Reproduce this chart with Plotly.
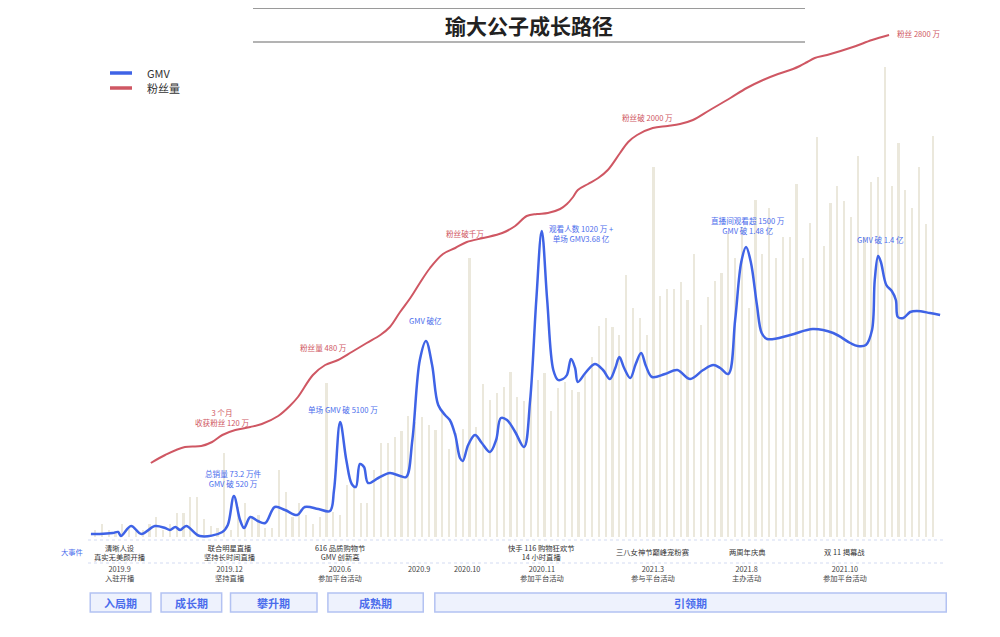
import plotly.graph_objects as go

# --- 数据：柱高、折线高度均为图上读取的相对值（基线为 0）---
bar_vals = [7, 13, 7, 4, 13, 10, 8, 7, 13, 20, 7, 13, 24, 24, 40, 40, 18, 11, 9,
            84,
            7, 30, 34, 20, 22, 9, 9, 67, 45, 20, 34, 22, 13, 20,
            154,
            25, 22, 52, 49, 34, 34, 67, 94, 94, 100, 106, 121, 115, 120, 112, 107, 127, 88, 104, 108,
            279,
            110, 153, 137, 144, 150, 165, 140, 136, 150, 157, 164, 126, 149, 155, 147, 145, 165, 180,
            211, 219, 210, 202, 262, 229, 219, 202,
            370,
            241, 248, 248, 255, 237, 283, 212, 240, 256, 264, 304, 279, 310, 229, 337, 283, 329, 279,
            300, 300, 353, 279, 314, 400, 291, 334, 351, 336, 320, 381, 300, 355, 360,
            470,
            351, 394, 347, 329, 370, 313, 401]

gmv_x = [-0.6, 0.7, 2.6, 3.4, 3.8, 5.3, 6.8, 8.8, 10.3, 11.0, 11.8, 12.5, 13.4, 15.4, 18.7,
         19.5, 20.4, 21.3, 21.9, 22.8, 23.9, 25.0, 26.4, 27.9, 29.7, 30.8, 32.8, 34.5, 35.1,
         36.0, 36.9, 37.7, 38.3, 38.9, 39.5, 40.1, 41.6, 43.3, 44.8, 45.7, 46.6, 47.7, 48.6,
         49.5, 50.4, 51.4, 52.1, 52.9, 53.6, 54.0, 54.8, 55.8, 56.8, 58.0, 58.9, 59.6, 60.5,
         61.7, 63.0, 63.9, 64.8, 65.6, 66.4, 67.3, 68.0, 68.7, 69.3, 69.9, 70.5, 70.9, 72.0,
         73.4, 74.6, 75.6, 76.4, 77.0, 77.7, 78.6, 79.4, 80.2, 80.9, 81.8, 83.7, 85.5, 87.4,
         89.3, 90.8, 91.8, 93.0, 94.0, 94.9, 95.6, 96.3, 97.2, 97.9, 98.7, 102.1, 105.4, 108.4,
         110.9, 112.0, 113.2, 114.1, 114.5, 115.0, 115.4, 116.2, 117.0, 117.6, 117.9, 118.7,
         119.7, 120.7, 122.6, 124.1]
gmv_y = [3, 3, 4, 5, 1, 11, 3, 11, 9, 7, 10, 7, 11, 1, 5,
         12, 41, 17, 9, 20, 16, 14, 30, 27, 22, 30, 28, 26, 47,
         115, 77, 53, 50, 73, 70, 54, 59, 64, 61, 60, 97, 177, 196,
         172, 132, 122, 117, 102, 79, 76, 92, 102, 94, 85, 97, 119, 117,
         105, 90, 137, 237, 306, 237, 167, 157, 158, 162, 178, 169, 155, 164,
         173, 167, 158, 169, 180, 169, 159, 173, 184, 171, 160, 163, 167, 158,
         167, 172, 169, 163, 217, 275, 290, 275, 232, 204, 198, 202, 208, 204,
         194, 191, 192, 207, 257, 281, 275, 252, 246, 237, 220, 219,
         225, 226, 224, 222]

fans_x = [8.2, 10.3, 13.2, 15.6, 17.2, 18.7, 20.6, 22.8, 24.5, 26.9, 28.6, 29.8, 32.0, 33.8,
          35.7, 37.7, 39.9, 41.9, 43.3, 44.8, 46.3, 47.7, 49.2, 51.1, 52.9, 54.6, 57.0, 59.8,
          61.7, 63.4, 64.9, 66.5, 68.3, 69.3, 70.2, 70.9, 72.4, 73.9, 75.3, 77.1, 78.3, 79.6,
          81.9, 84.1, 85.9, 87.8, 90.3, 93.3, 95.7, 98.1, 100.3, 102.5, 103.5, 104.6, 105.7,
          107.5, 111.3, 114.1, 116.6]
fans_y = [74, 82, 90, 91, 95, 102, 107, 110, 113, 121, 131, 140, 162, 172,
          177, 185, 194, 202, 210, 225, 239, 254, 269, 283, 289, 295, 299, 304,
          311, 321, 323, 324, 328, 333, 340, 347, 353, 359, 367, 384, 395, 402,
          409, 411, 413, 417, 427, 439, 449, 457, 463, 468, 471, 475, 479,
          482, 490, 497, 502]

# 大事件（按时间轴位置）
event_x = [3.7, 19.8, 36.0, 47.6, 54.6, 65.6, 81.9, 95.7, 110.1]
event_text = ["清晰人设<br>真实无美颜开播", "联合明星直播<br>坚持长时间直播", "616 品质购物节<br>GMV 创新高",
              "", "", "快手 116 购物狂欢节<br>14 小时直播", "三八女神节巅峰宠粉赛", "两周年庆典", "双 11 揭幕战"]
event_date = ["2019.9<br>入驻开播", "2019.12<br>坚持直播", "2020.6<br>参加平台活动", "2020.9", "2020.10",
              "2020.11<br>参加平台活动", "2021.3<br>参与平台活动", "2021.8<br>主办活动", "2021.10<br>参加平台活动"]

# 阶段
phase_names = ["入局期", "成长期", "攀升期", "成熟期", "引领期"]
phase_start = [-0.7, 9.7, 19.9, 34.2, 49.9]
phase_end = [8.2, 18.6, 32.6, 48.2, 125.0]

# 折线注释
fans_notes = [(18.6, 120, "3 个月<br>收获粉丝 120 万"), (33.5, 190, "粉丝量 480 万"), (54.3, 304, "粉丝破千万"),
              (81.1, 420, "粉丝破 2000 万"), (120.9, 504, "粉丝 2800 万")]
gmv_notes = [(20.4, 59, "总销量 73.2 万件<br>GMV 破 520 万"), (36.4, 128, "单场 GMV 破 5100 万"),
             (48.5, 217, "GMV 破亿"), (71.4, 304, "观看人数 1020 万 +<br>单场 GMV3.68 亿"),
             (95.9, 312, "直播间观看超 1500 万<br>GMV 破 1.48 亿"), (115.4, 298, "GMV 破 1.4 亿")]

FONT = "Noto Sans CJK SC"
BLUE = "#3f63e6"
RED = "#cf5763"
TEXT_BLUE = "#4a6cec"
# 页面有 8px 的默认边距，画布取 992x629
OFF = 8
W, H = 992, 629
STEP = 6.81  # 每根柱子的像素间距


def fx(px):
    return (px - OFF) / W


def fy(py):
    return 1 - (py - OFF) / H


def note(x, y, text, size, color, xref="paper", yref="paper"):
    return dict(x=x, y=y, xref=xref, yref=yref, text=text, showarrow=False,
                xanchor="center", yanchor="middle", font=dict(size=size, color=color))


fig = go.Figure()
fig.add_trace(go.Bar(x=list(range(len(bar_vals))), y=bar_vals, width=0.32,
                     marker=dict(color="#ebe8dc", line=dict(width=0)), showlegend=False, hoverinfo="skip"))
fig.add_trace(go.Scatter(x=gmv_x, y=gmv_y, mode="lines", name="GMV", showlegend=False,
                         line=dict(color=BLUE, width=2.5, shape="spline", smoothing=1)))
fig.add_trace(go.Scatter(x=fans_x, y=fans_y, mode="lines", name="粉丝量", showlegend=False,
                         line=dict(color=RED, width=2, shape="spline", smoothing=1)))

annotations = []
shapes = []
for x, y, t in fans_notes:
    annotations.append(note(x, y, t, 7.6, RED, "x", "y"))
for x, y, t in gmv_notes:
    annotations.append(note(x, y, t, 7.6, TEXT_BLUE, "x", "y"))

# 大事件与时间
for x, t, d in zip(event_x, event_text, event_date):
    if t:
        annotations.append(note(x, fy(552), t, 7.3, "#333333", "x"))
    y = fy(573.5) if "<br>" in d else fy(569)
    annotations.append(note(x, y, d, 7.3, "#444444", "x"))
annotations.append(note(fx(72), fy(552), "大事件", 7.3, TEXT_BLUE))

for y in (540, 563):
    shapes.append(dict(type="line", xref="paper", yref="paper", x0=fx(88), x1=fx(946),
                       y0=fy(y), y1=fy(y), line=dict(color="#d3dbf2", width=1, dash="dot")))
for name, s, e in zip(phase_names, phase_start, phase_end):
    shapes.append(dict(type="rect", xref="x", yref="paper", x0=s, x1=e, y0=fy(612), y1=fy(593),
                       fillcolor="#eef2fd", line=dict(color="#b3c2f2", width=1.5)))
    annotations.append(note((s + e) / 2, fy(602.5), "<b>" + name + "</b>", 11, TEXT_BLUE, "x"))

# 图例
for y, c, t in ((73, BLUE, "GMV"), (88, RED, "粉丝量")):
    shapes.append(dict(type="line", xref="paper", yref="paper", x0=fx(110), x1=fx(132), y0=fy(y), y1=fy(y),
                       line=dict(color=c, width=3.5)))
    annotations.append(dict(x=fx(145), y=fy(y), xref="paper", yref="paper", text=t, showarrow=False,
                            xanchor="left", yanchor="middle", font=dict(size=11, color="#333333")))

# 标题
shapes.append(dict(type="line", xref="paper", yref="paper", x0=fx(253), x1=fx(805), y0=fy(8.5), y1=fy(8.5),
                   line=dict(color="#9a9a9a", width=1)))
shapes.append(dict(type="line", xref="paper", yref="paper", x0=fx(253), x1=fx(805), y0=fy(42), y1=fy(42),
                   line=dict(color="#9a9a9a", width=1.5)))
annotations.append(note(fx(529), fy(25), "<b>瑜大公子成长路径</b>", 21, "#222222"))

fig.update_layout(
    width=W, height=H,
    margin=dict(l=0, r=0, t=0, b=0),
    paper_bgcolor="white", plot_bgcolor="white",
    font=dict(family=FONT),
    xaxis=dict(visible=False, range=[-(95 - OFF) / STEP, (W - 95 + OFF) / STEP]),
    yaxis=dict(visible=False, range=[-(H - (537 - OFF)), 537 - OFF]),
    bargap=0,
    showlegend=False,
    shapes=shapes,
    annotations=annotations,
)

fig.write_html("out.html")
